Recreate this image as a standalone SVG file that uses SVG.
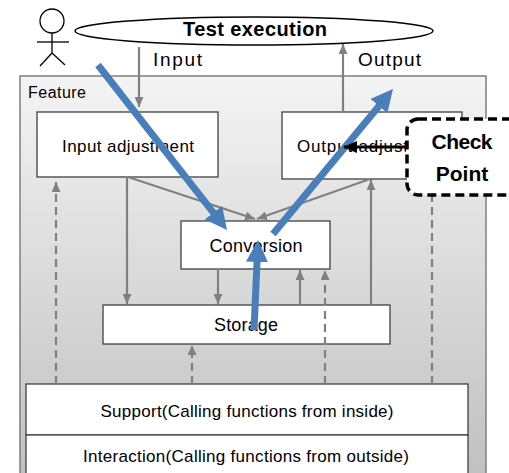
<svg xmlns="http://www.w3.org/2000/svg" width="509" height="473" viewBox="0 0 509 473">
<defs>
<linearGradient id="fg" x1="0" y1="0" x2="0" y2="1">
<stop offset="0" stop-color="#f4f4f4"/>
<stop offset="1" stop-color="#bfbfbf"/>
</linearGradient>
<clipPath id="oc"><rect x="282" y="112" width="124" height="67"/></clipPath>
<marker id="ga" markerUnits="userSpaceOnUse" markerWidth="10" markerHeight="9" viewBox="0 0 10 9" refX="10" refY="4.5" orient="auto">
<path d="M0,0 L10,4.5 L0,9 z" fill="#808080"/>
</marker>
<marker id="ba" markerUnits="userSpaceOnUse" markerWidth="22" markerHeight="22" viewBox="0 0 22 22" refX="4" refY="11" orient="auto">
<path d="M0,0 L22,11 L0,22 z" fill="#4a7ebb"/>
</marker>
<marker id="ka" markerUnits="userSpaceOnUse" markerWidth="14" markerHeight="12" viewBox="0 0 14 12" refX="13" refY="6" orient="auto">
<path d="M0,0 L14,6 L0,12 z" fill="#000"/>
</marker>
</defs>
<style>
text{font-family:"Liberation Sans",Arial,sans-serif;fill:#000}
.box{fill:#fff;stroke:#404040;stroke-width:1.3}
.lbl{font-size:17px}
.g{stroke:#808080;stroke-width:2.2;fill:none;marker-end:url(#ga)}
.gd{stroke:#808080;stroke-width:2.2;fill:none;stroke-dasharray:8 5}
.gda{marker-end:url(#ga)}
.b{stroke:#4a7ebb;stroke-width:7;fill:none;marker-end:url(#ba)}
</style>
<rect width="509" height="473" fill="#fff"/>

<g id="actor" fill="none" stroke="#000" stroke-width="1.3">
<circle cx="52" cy="21" r="12" fill="#fff"/>
<line x1="52" y1="33" x2="52" y2="53"/>
<line x1="37" y1="42" x2="69" y2="42"/>
<line x1="52" y1="53" x2="40" y2="66"/>
<line x1="52" y1="53" x2="65" y2="65"/>
</g>

<g id="test-execution">
<ellipse cx="254" cy="31" rx="179" ry="14" fill="#fff" stroke="#000" stroke-width="1.5"/>
<text x="255" y="36" font-size="20" font-weight="bold" text-anchor="middle" textLength="144">Test execution</text>
</g>

<g id="feature">
<rect x="20" y="76" width="466" height="410" fill="url(#fg)" stroke="#7f7f7f" stroke-width="1.5"/>
<text x="28" y="98" font-size="16" textLength="58">Feature</text>
</g>

<g id="input-adjustment">
<rect class="box" x="37" y="112" width="181" height="65"/>
<text class="lbl" x="128" y="152" text-anchor="middle" textLength="132">Input adjustment</text>
</g>

<g id="output-adjustment">
<rect class="box" x="282" y="112" width="180" height="67"/>
<text class="lbl" x="297" y="152" textLength="152" clip-path="url(#oc)">Output adjustment</text>
</g>

<g id="conversion">
<rect class="box" x="181" y="221" width="149" height="48"/>
<text x="256" y="252" font-size="18" text-anchor="middle" textLength="93">Conversion</text>
</g>

<g id="storage">
<rect class="box" x="103" y="305" width="287" height="39"/>
<text x="246" y="331" font-size="18" text-anchor="middle" textLength="64">Storage</text>
</g>

<g id="support">
<rect class="box" x="26" y="384" width="442" height="51"/>
<text x="247" y="417" font-size="17" text-anchor="middle" textLength="293">Support(Calling functions from inside)</text>
</g>

<g id="interaction">
<rect class="box" x="26" y="435" width="442" height="60"/>
<text x="246" y="462" font-size="17" text-anchor="middle" textLength="326">Interaction(Calling functions from outside)</text>
</g>

<g id="labels">
<text x="153" y="66" font-size="19" textLength="49">Input</text>
<text x="358" y="66" font-size="19" textLength="63">Output</text>
</g>

<g id="connectors">
<line class="g" x1="139" y1="47" x2="139" y2="107"/>
<line class="g" x1="343" y1="112" x2="343" y2="44"/>
<line class="g" x1="128" y1="177" x2="255" y2="219"/>
<line class="g" x1="370" y1="179" x2="257" y2="219"/>
<line class="g" x1="127" y1="177" x2="127" y2="304"/>
<line class="g" x1="218" y1="269" x2="218" y2="304"/>
<line class="g" x1="300" y1="305" x2="300" y2="270"/>
<line class="g" x1="371" y1="306" x2="371" y2="180"/>
<line class="gd gda" x1="56" y1="384" x2="56" y2="182"/>
<line class="gd gda" x1="192" y1="384" x2="192" y2="345"/>
<line class="gd gda" x1="325" y1="384" x2="325" y2="270"/>
<line class="gd" x1="432" y1="384" x2="432" y2="190"/>
</g>

<g id="check-point">
<rect x="407" y="119" width="120" height="76" rx="11" fill="#fff" stroke="#000" stroke-width="3.5" stroke-dasharray="9 5"/>
<text x="462" y="149" font-size="21" font-weight="bold" text-anchor="middle" textLength="61">Check</text>
<text x="462" y="181" font-size="21" font-weight="bold" text-anchor="middle">Point</text>
</g>

<g id="flow-arrows">
<line class="b" x1="98" y1="65" x2="215.9" y2="215.8"/>
<line class="b" x1="273" y1="234" x2="381.5" y2="102.9"/>
<line class="b" x1="254" y1="330" x2="257.2" y2="258"/>
<line x1="407" y1="147" x2="344" y2="147" stroke="#000" stroke-width="3" marker-end="url(#ka)"/>
</g>
</svg>
